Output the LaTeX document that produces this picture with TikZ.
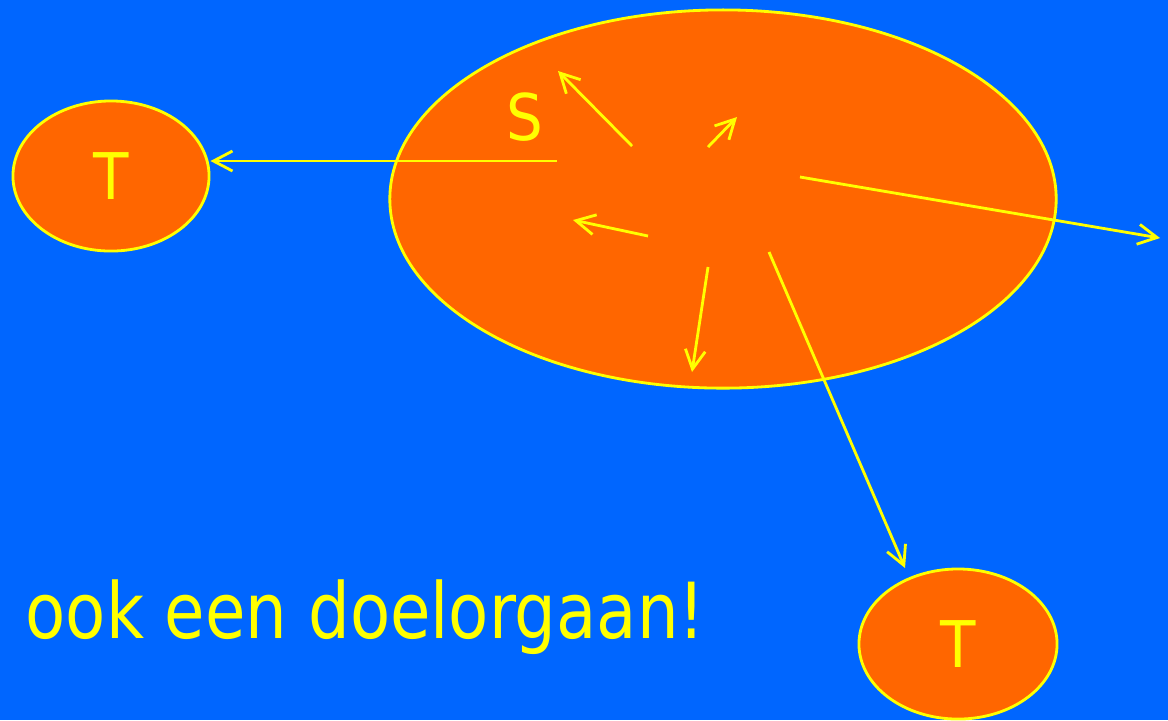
\documentclass[tikz,border=0pt]{standalone}
\usepackage{fontspec}
\setmainfont{DejaVu Sans Condensed}
\usetikzlibrary{arrows.meta, shapes.geometric}

\definecolor{slideblue}{HTML}{0066FF}
\definecolor{cellorange}{HTML}{FF6600}
\definecolor{signyellow}{HTML}{FFFF00}

\begin{document}
\begin{tikzpicture}[
  x=0.01cm, y=-0.01cm,
  >={Straight Barb[length=0.19cm, width=0.2cm]},
  cell/.style={
    ellipse,
    draw=signyellow,
    fill=cellorange,
    line width=0.8pt,
    inner sep=0pt
  },
  label/.style={text=signyellow, font=\fontsize{18.3}{20}\selectfont},
  arrow/.style={->, draw=signyellow, line width=0.8pt}
]

% achtergrond
\fill[slideblue] (0,0) rectangle (1168,720);
\useasboundingbox (0,0) rectangle (1168,720);

% cellen
\node[cell, minimum width=6.66cm, minimum height=3.78cm] (src) at (723,199) {};
\node[cell, minimum width=1.96cm, minimum height=1.50cm] (tl) at (111,176) {};
\node[cell, minimum width=1.98cm, minimum height=1.50cm] (tr) at (958,644) {};

% letters
\node[label] (s) at (525,117) {S};
\node[label] at (tl) {T};
\node[label] at (tr) {T};

% startpunten en losse eindpunten
\coordinate (a1) at (557,161);
\coordinate (a2) at (632,146);
\coordinate (e2) at (558,71);
\coordinate (a3) at (708,147);
\coordinate (e3) at (737,117);
\coordinate (a4) at (648,236);
\coordinate (e4) at (573,220);
\coordinate (a5) at (708,267);
\coordinate (e5) at (692,372);
\coordinate (a6) at (769,252);
\coordinate (e6) at (905,568);
\coordinate (a7) at (800,177);
\coordinate (e7) at (1160,238);

% pijlen
\draw[arrow] (a1) -- (a1 -| tl.east);
\draw[arrow] (a2) -- (e2);
\draw[arrow] (a3) -- (e3);
\draw[arrow] (a4) -- (e4);
\draw[arrow] (a5) -- (e5);
\draw[arrow] (a6) -- (e6);
\draw[arrow] (a7) -- (e7);

% tekst
\node[text=signyellow, font=\fontsize{22}{24}\selectfont, anchor=base west, inner sep=0pt] (note) at (25,638) {\scalebox{0.944}[1]{ook een doelorgaan!}};

\end{tikzpicture}
\end{document}
